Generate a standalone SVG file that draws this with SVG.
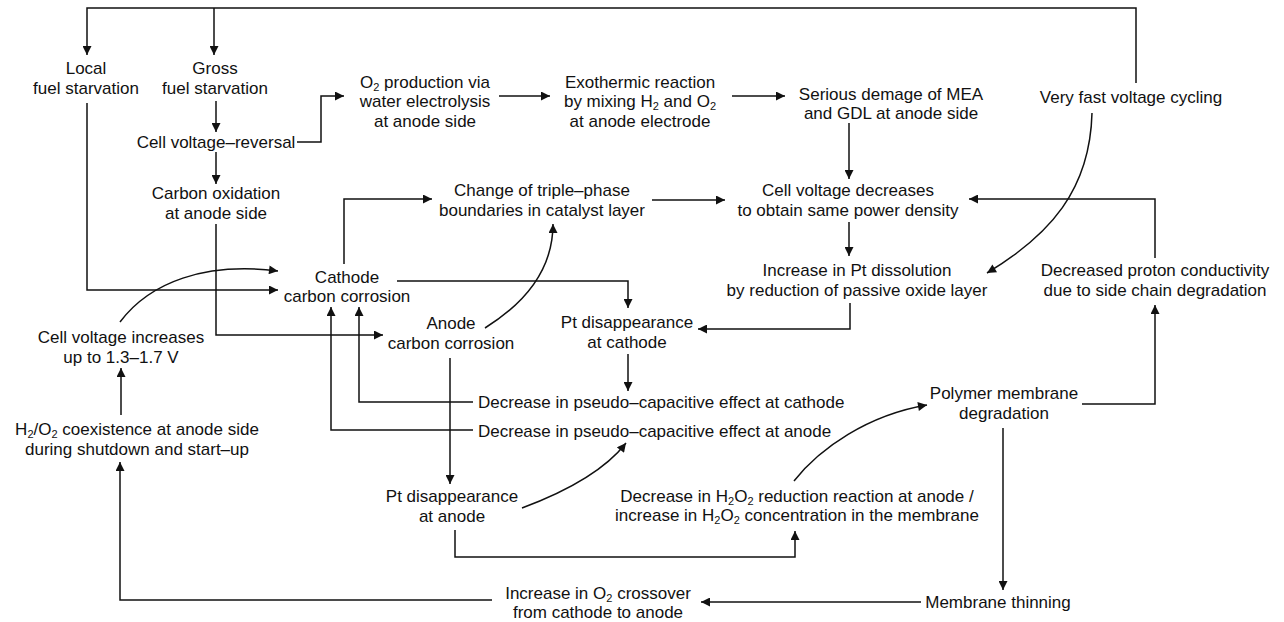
<svg xmlns="http://www.w3.org/2000/svg" width="1284" height="622" viewBox="0 0 1284 622">
<defs>
<style>
text{font-family:"Liberation Sans",Arial,sans-serif;font-size:17px;fill:#111;text-anchor:middle}
.l{text-anchor:start}
.s{font-size:11px}
.c path,.c line,.c polyline{fill:none;stroke:#111;stroke-width:1.5}
</style>
<marker id="ah" viewBox="0 0 10 10" refX="10" refY="5" markerWidth="11" markerHeight="9" markerUnits="userSpaceOnUse" orient="auto"><path d="M0,0 L10,5 L0,10 z" fill="#111"/></marker>
</defs>
<rect width="1284" height="622" fill="#fff"/>
<g class="c" id="connectors">
<polyline points="1136,83 1136,8 87,8 87,55" marker-end="url(#ah)"/>
<line x1="214" y1="8" x2="214" y2="55" marker-end="url(#ah)"/>
<polyline points="87,103 87,290 278,290" marker-end="url(#ah)"/>
<line x1="216" y1="101" x2="216" y2="132" marker-end="url(#ah)"/>
<line x1="216" y1="152" x2="216" y2="184" marker-end="url(#ah)"/>
<polyline points="297,142 321,142 321,96 344,96" marker-end="url(#ah)"/>
<line x1="499" y1="96" x2="550" y2="96" marker-end="url(#ah)"/>
<line x1="732" y1="96" x2="785" y2="96" marker-end="url(#ah)"/>
<line x1="849" y1="123" x2="849" y2="179" marker-end="url(#ah)"/>
<line x1="652" y1="200" x2="725" y2="200" marker-end="url(#ah)"/>
<polyline points="1155,258 1155,199 969,199" marker-end="url(#ah)"/>
<line x1="849" y1="222" x2="849" y2="256" marker-end="url(#ah)"/>
<path d="M1092,113 C1090,190 1050,235 987,273" marker-end="url(#ah)"/>
<polyline points="850,303 850,329 698,329" marker-end="url(#ah)"/>
<polyline points="344,264 344,199 432,199" marker-end="url(#ah)"/>
<polyline points="397,281 628,281 628,308" marker-end="url(#ah)"/>
<path d="M485,328 C530,300 553,265 553,224" marker-end="url(#ah)"/>
<path d="M120,322 C150,282 205,262 278,271" marker-end="url(#ah)"/>
<polyline points="216,224 216,335 383,335" marker-end="url(#ah)"/>
<polyline points="473,402 359,402 359,307" marker-end="url(#ah)"/>
<polyline points="473,430 331,430 331,307" marker-end="url(#ah)"/>
<line x1="450" y1="358" x2="450" y2="484" marker-end="url(#ah)"/>
<line x1="628" y1="354" x2="628" y2="391" marker-end="url(#ah)"/>
<path d="M522,508 C565,492 605,470 626,443" marker-end="url(#ah)"/>
<polyline points="455,530 455,557 795,557 795,531" marker-end="url(#ah)"/>
<path d="M794,481 C820,448 868,415 927,405" marker-end="url(#ah)"/>
<polyline points="1082,404 1155,404 1155,305" marker-end="url(#ah)"/>
<line x1="1003" y1="428" x2="1003" y2="590" marker-end="url(#ah)"/>
<line x1="921" y1="602" x2="701" y2="602" marker-end="url(#ah)"/>
<polyline points="492,600 120,600 120,462" marker-end="url(#ah)"/>
<line x1="121" y1="415" x2="121" y2="368" marker-end="url(#ah)"/>
</g>
<g id="local"><text x="86" y="74">Local</text><text x="86" y="94">fuel starvation</text></g>
<g id="gross"><text x="215" y="74">Gross</text><text x="215" y="94">fuel starvation</text></g>
<g id="reversal"><text x="216" y="148">Cell voltage–reversal</text></g>
<g id="carbonox"><text x="216" y="199">Carbon oxidation</text><text x="216" y="219">at anode side</text></g>
<g id="o2prod"><text x="425" y="88">O<tspan class="s" dy="3">2</tspan><tspan dy="-3"> production via</tspan></text><text x="425" y="107">water electrolysis</text><text x="425" y="127">at anode side</text></g>
<g id="exo"><text x="640" y="88">Exothermic reaction</text><text x="640" y="107">by mixing H<tspan class="s" dy="3">2</tspan><tspan dy="-3"> and O</tspan><tspan class="s" dy="3">2</tspan></text><text x="640" y="127">at anode electrode</text></g>
<g id="serious"><text x="891" y="100">Serious demage of MEA</text><text x="891" y="119">and GDL at anode side</text></g>
<g id="fastcycling"><text x="1131" y="103">Very fast voltage cycling</text></g>
<g id="triple"><text x="542" y="196">Change of triple–phase</text><text x="542" y="216">boundaries in catalyst layer</text></g>
<g id="cvdec"><text x="848" y="196">Cell voltage decreases</text><text x="848" y="216">to obtain same power density</text></g>
<g id="cathodecc"><text x="347" y="283">Cathode</text><text x="347" y="302">carbon corrosion</text></g>
<g id="anodecc"><text x="451" y="329">Anode</text><text x="451" y="349">carbon corrosion</text></g>
<g id="ptcathode"><text x="627" y="328">Pt disappearance</text><text x="627" y="348">at cathode</text></g>
<g id="ptdiss"><text x="857" y="276">Increase in Pt dissolution</text><text x="857" y="296">by reduction of passive oxide layer</text></g>
<g id="proton"><text x="1155" y="276">Decreased proton conductivity</text><text x="1155" y="296">due to side chain degradation</text></g>
<g id="cvinc"><text x="121" y="343">Cell voltage increases</text><text x="121" y="363">up to 1.3–1.7 V</text></g>
<g id="coexist"><text x="137" y="435">H<tspan class="s" dy="3">2</tspan><tspan dy="-3">/O</tspan><tspan class="s" dy="3">2</tspan><tspan dy="-3"> coexistence at anode side</tspan></text><text x="137" y="455">during shutdown and start–up</text></g>
<g id="pseudocat"><text class="l" x="478" y="408">Decrease in pseudo–capacitive effect at cathode</text></g>
<g id="pseudoan"><text class="l" x="478" y="437">Decrease in pseudo–capacitive effect at anode</text></g>
<g id="polymer"><text x="1004" y="399">Polymer membrane</text><text x="1004" y="419">degradation</text></g>
<g id="ptanode"><text x="452" y="502">Pt disappearance</text><text x="452" y="522">at anode</text></g>
<g id="h2o2"><text x="797" y="502">Decrease in H<tspan class="s" dy="3">2</tspan><tspan dy="-3">O</tspan><tspan class="s" dy="3">2</tspan><tspan dy="-3"> reduction reaction at anode /</tspan></text><text x="797" y="521">increase in H<tspan class="s" dy="3">2</tspan><tspan dy="-3">O</tspan><tspan class="s" dy="3">2</tspan><tspan dy="-3"> concentration in the membrane</tspan></text></g>
<g id="crossover"><text x="598" y="599">Increase in O<tspan class="s" dy="3">2</tspan><tspan dy="-3"> crossover</tspan></text><text x="598" y="618">from cathode to anode</text></g>
<g id="thinning"><text x="998" y="608">Membrane thinning</text></g>
</svg>
